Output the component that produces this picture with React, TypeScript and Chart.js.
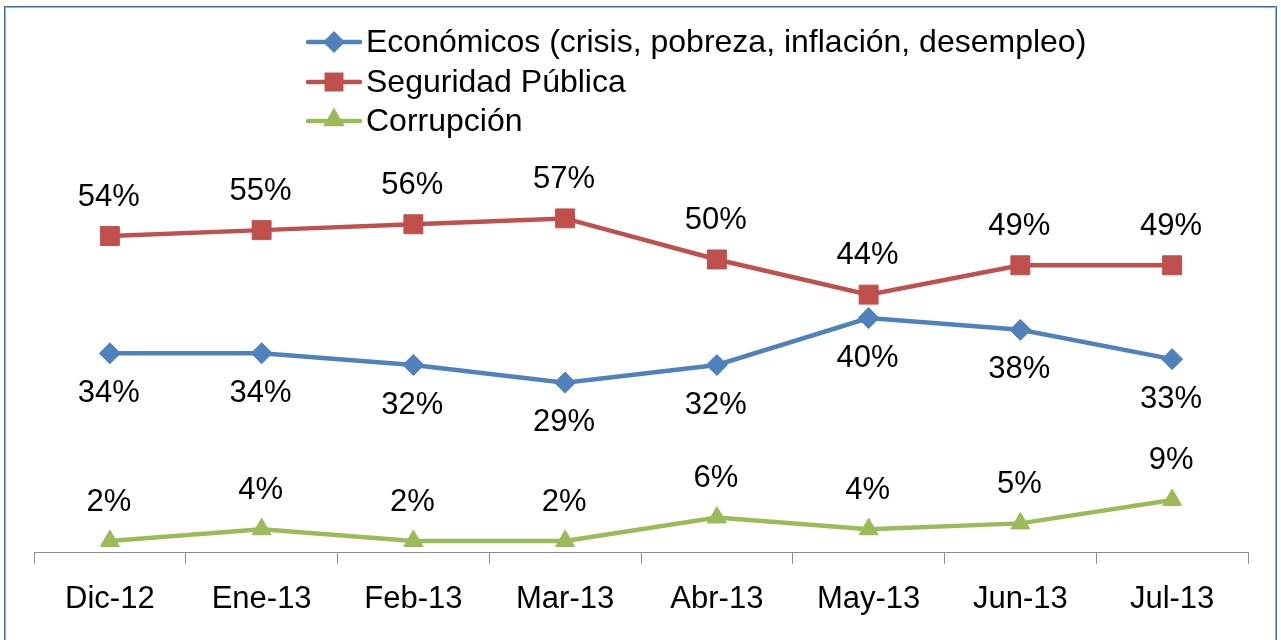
import React, { useEffect, useRef } from 'react';
import { Chart, registerables } from 'chart.js';

Chart.register(...registerables);

const categories = ['Dic-12', 'Ene-13', 'Feb-13', 'Mar-13', 'Abr-13', 'May-13', 'Jun-13', 'Jul-13'];
const economicos = [34, 34, 32, 29, 32, 40, 38, 33];
const seguridad = [54, 55, 56, 57, 50, 44, 49, 49];
const corrupcion = [2, 4, 2, 2, 6, 4, 5, 9];
const seriesNames = ['Económicos (crisis, pobreza, inflación, desempleo)', 'Seguridad Pública', 'Corrupción'];
const labelSides = ['below', 'above', 'above'];

const FONT = '"Liberation Sans", Arial, sans-serif';
const BLUE = '#4F81BD';
const RED = '#C0504D';
const GREEN = '#9BBB59';

function drawMarker(ctx: CanvasRenderingContext2D, style: string, x: number, y: number, r: number, color: string) {
  ctx.save();
  ctx.fillStyle = color;
  ctx.beginPath();
  if (style === 'rectRot') {
    ctx.moveTo(x, y - r);
    ctx.lineTo(x + r, y);
    ctx.lineTo(x, y + r);
    ctx.lineTo(x - r, y);
  } else if (style === 'rect') {
    const s = Math.SQRT1_2 * r;
    ctx.rect(x - s, y - s, 2 * s, 2 * s);
  } else {
    ctx.moveTo(x, y - r);
    ctx.lineTo(x + r * 0.866, y + r * 0.5);
    ctx.lineTo(x - r * 0.866, y + r * 0.5);
  }
  ctx.closePath();
  ctx.fill();
  ctx.restore();
}

const legendPlugin = {
  id: 'customLegend',
  afterDraw(chart: any) {
    const ctx = chart.ctx as CanvasRenderingContext2D;
    const rows = [42, 82, 121];
    const markerR = [11, 13.4, 12.5];
    chart.data.datasets.forEach((ds: any, i: number) => {
      const y = rows[i];
      ctx.save();
      ctx.strokeStyle = ds.borderColor;
      ctx.lineWidth = 4.5;
      ctx.lineCap = 'round';
      ctx.beginPath();
      ctx.moveTo(308, y);
      ctx.lineTo(360, y);
      ctx.stroke();
      ctx.restore();
      drawMarker(ctx, ds.pointStyle, 334, i === 2 ? y - 1 : y, markerR[i], ds.pointBackgroundColor);
      ctx.save();
      ctx.fillStyle = '#000';
      ctx.font = `32px ${FONT}`;
      ctx.textAlign = 'left';
      ctx.textBaseline = 'middle';
      ctx.fillText(ds.label, 366, y + 1);
      ctx.restore();
    });
  },
};

const dataLabelPlugin = {
  id: 'dataLabels',
  afterDatasetsDraw(chart: any) {
    const ctx = chart.ctx as CanvasRenderingContext2D;
    ctx.save();
    ctx.fillStyle = '#000';
    ctx.font = `31px ${FONT}`;
    ctx.textAlign = 'center';
    ctx.textBaseline = 'middle';
    chart.data.datasets.forEach((ds: any, i: number) => {
      const meta = chart.getDatasetMeta(i);
      meta.data.forEach((pt: any, j: number) => {
        const off = labelSides[i] === 'below' ? 40 : -39;
        ctx.fillText(`${ds.data[j]}%`, pt.x - 1, pt.y + off);
      });
    });
    ctx.restore();
  },
};

export default function App() {
  const ref = useRef<HTMLCanvasElement | null>(null);

  useEffect(() => {
    if (!ref.current) return;
    const chart = new Chart(ref.current, {
      type: 'line',
      data: {
        labels: categories,
        datasets: [
          {
            label: seriesNames[0],
            data: economicos,
            borderColor: BLUE,
            backgroundColor: BLUE,
            pointBackgroundColor: BLUE,
            pointBorderColor: BLUE,
            pointStyle: 'rectRot',
            pointRadius: 10.5,
            pointBorderWidth: 1,
            borderWidth: 4.5,
            tension: 0,
          },
          {
            label: seriesNames[1],
            data: seguridad,
            borderColor: RED,
            backgroundColor: RED,
            pointBackgroundColor: RED,
            pointBorderColor: RED,
            pointStyle: 'rect',
            pointRadius: 13.4,
            pointBorderWidth: 1,
            borderWidth: 4.5,
            tension: 0,
          },
          {
            label: seriesNames[2],
            data: corrupcion,
            borderColor: GREEN,
            backgroundColor: GREEN,
            pointBackgroundColor: GREEN,
            pointBorderColor: GREEN,
            pointStyle: 'triangle',
            pointRadius: 11,
            pointBorderWidth: 1,
            borderWidth: 4.5,
            tension: 0,
          },
        ],
      },
      options: {
        responsive: false,
        animation: false,
        events: [],
        layout: { padding: { left: 34, right: 33, top: 200.8, bottom: 0 } },
        scales: {
          x: {
            offset: true,
            grid: {
              offset: true,
              drawOnChartArea: false,
              tickLength: 11,
              color: '#8C8C8C',
              lineWidth: 1,
            },
            border: { display: true, color: '#8C8C8C', width: 1 },
            ticks: {
              color: '#000',
              font: { family: FONT, size: 31 },
              padding: 17,
              maxRotation: 0,
              autoSkip: false,
            },
            afterFit: (s: any) => {
              s.height = 87.3;
            },
          },
          y: { display: false, min: 0, max: 60 },
        },
        plugins: {
          legend: { display: false },
          tooltip: { enabled: false },
        },
      },
      plugins: [dataLabelPlugin, legendPlugin],
    });
    return () => chart.destroy();
  }, []);

  return (
    <div style={{ position: 'fixed', left: 0, top: 0, width: 1281, height: 640, background: '#fff', overflow: 'hidden' }}>
      <div
        style={{
          position: 'absolute',
          left: 4,
          top: 6,
          width: 1273,
          height: 660,
          boxSizing: 'border-box',
          border: '1px solid #3E6EB0',
          boxShadow: 'inset 0 0 0 1px #8DB3E2',
        }}
      />
      <canvas ref={ref} width={1281} height={640} style={{ position: 'absolute', left: 0, top: 0 }} />
    </div>
  );
}
